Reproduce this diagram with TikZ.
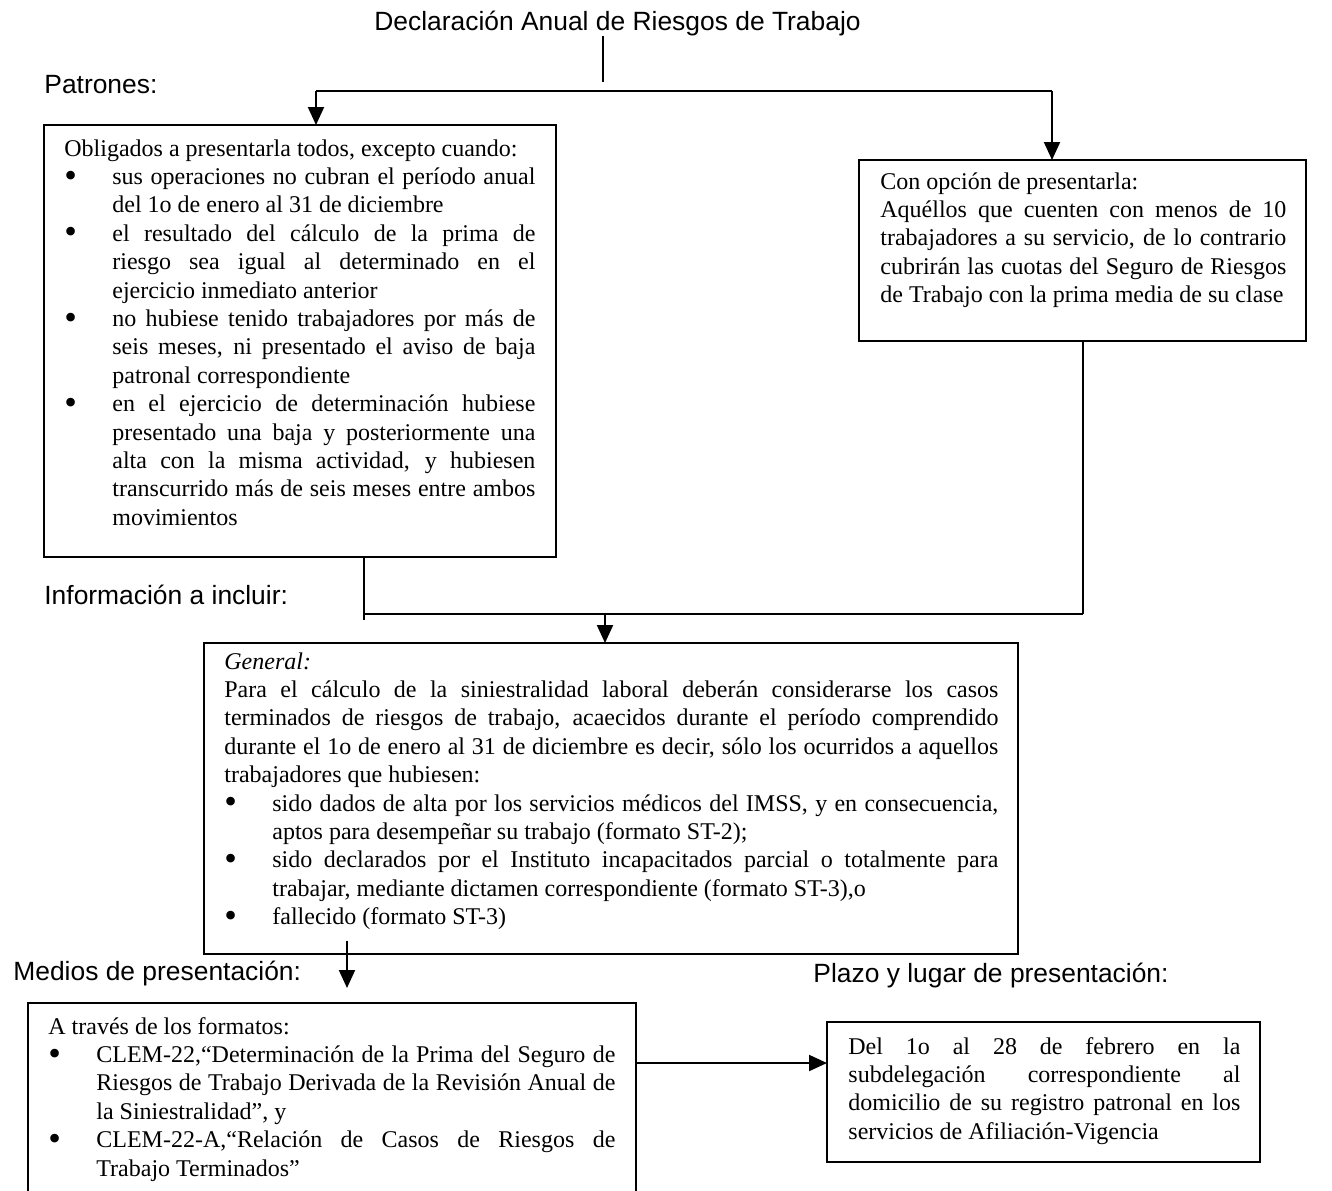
\documentclass[tikz,border=0pt]{standalone}
\usepackage{fontspec}
\setmainfont{Liberation Serif}
\newfontfamily\hfont{Liberation Sans}
\usetikzlibrary{arrows.meta}
\newcommand\xbul{\raisebox{-1.3pt}{\scalebox{1.5}{\textbullet}}}
\newcommand\xJ[1]{\makebox[\linewidth][s]{#1}}
\newcommand\xBJ[1]{\makebox[24pt][l]{\xbul}\makebox[\dimexpr\linewidth-24pt\relax][s]{#1}}
\newcommand\xBN[1]{\makebox[24pt][l]{\xbul}#1}
\newcommand\xIJ[1]{\hspace*{24pt}\makebox[\dimexpr\linewidth-24pt\relax][s]{#1}}
\newcommand\xIN[1]{\hspace*{24pt}#1}
\tikzset{
  box/.style={draw, line width=1pt, anchor=north west, inner sep=0pt, outer sep=0pt},
  txt/.style={anchor=base west, inner sep=0pt, font=\fontsize{12}{14.2}\selectfont},
  head/.style={anchor=base west, inner sep=0pt, font=\hfont\fontsize{13.2}{15}\selectfont},
  conn/.style={line width=1pt},
  arr/.style={line width=1pt, -{Triangle[length=9pt,width=8pt]}},
}
\begin{document}
\begin{tikzpicture}[x=0.5pt, y=-0.5pt]
\useasboundingbox (0,0) rectangle (1332,1190);
\fill[white] (0,0) rectangle (1332,1190);
\clip (0,0) rectangle (1332,1190);

% headings
\node[head] (title) at (374,30) {Declaración Anual de Riesgos de Trabajo};
\node[head] (hpat) at (44,93) {Patrones:};
\node[head] (hinf) at (44,604) {Información a incluir:};
\node[head] (hmed) at (13,980) {Medios de presentación:};
\node[head] (hpla) at (813,982) {Plazo y lugar de presentación:};

% boxes
\node[box, minimum width=256pt, minimum height=216pt] (b1) at (44,125) {};
\node[box, minimum width=223.5pt, minimum height=90.5pt] (b2) at (859,160) {};
\node[box, minimum width=407pt, minimum height=155.5pt] (b3) at (204,643) {};
\node[box, minimum width=304pt, minimum height=125pt] (b4) at (28,1003) {};
\node[box, minimum width=216.5pt, minimum height=70pt] (b5) at (827,1022) {};

% box texts
\node[txt] (t1) at (64,156) {\parbox[t]{235.5pt}{Obligados a presentarla todos, excepto cuando:\\
\xBJ{sus operaciones no cubran el período anual}\\
\xIN{del 1o de enero al 31 de diciembre}\\
\xBJ{el resultado del cálculo de la prima de}\\
\xIJ{riesgo sea igual al determinado en el}\\
\xIN{ejercicio inmediato anterior}\\
\xBJ{no hubiese tenido trabajadores por más de}\\
\xIJ{seis meses, ni presentado el aviso de baja}\\
\xIN{patronal correspondiente}\\
\xBJ{en el ejercicio de determinación hubiese}\\
\xIJ{presentado una baja y posteriormente una}\\
\xIJ{alta con la misma actividad, y hubiesen}\\
\xIJ{transcurrido más de seis meses entre ambos}\\
\xIN{movimientos}}};

\node[txt] (t2) at (880,189) {\parbox[t]{203pt}{Con opción de presentarla:\\
\xJ{Aquéllos que cuenten con menos de 10}\\
\xJ{trabajadores a su servicio, de lo contrario}\\
\xJ{cubrirán las cuotas del Seguro de Riesgos}\\
de Trabajo con la prima media de su clase}};

\node[txt] (t3) at (224,669) {\parbox[t]{387pt}{\textit{General:}\\
\xJ{Para el cálculo de la siniestralidad laboral deberán considerarse los casos}\\
\xJ{terminados de riesgos de trabajo, acaecidos durante el período comprendido}\\
\xJ{durante el 1o de enero al 31 de diciembre es decir, sólo los ocurridos a aquellos}\\
trabajadores que hubiesen:\\
\xBJ{sido dados de alta por los servicios médicos del IMSS, y en consecuencia,}\\
\xIN{aptos para desempeñar su trabajo (formato ST-2);}\\
\xBJ{sido declarados por el Instituto incapacitados parcial o totalmente para}\\
\xIN{trabajar, mediante dictamen correspondiente (formato ST-3),o}\\
\xBN{fallecido (formato ST-3)}}};

\node[txt] (t4) at (48,1034) {\parbox[t]{283.5pt}{A través de los formatos:\\
\xBJ{CLEM-22,“Determinación de la Prima del Seguro de}\\
\xIJ{Riesgos de Trabajo Derivada de la Revisión Anual de}\\
\xIN{la Siniestralidad”, y}\\
\xBJ{CLEM-22-A,“Relación de Casos de Riesgos de}\\
\xIN{Trabajo Terminados”}}};

\node[txt] (t5) at (848,1054) {\parbox[t]{196pt}{\xJ{Del 1o al 28 de febrero en la}\\
\xJ{subdelegación correspondiente al}\\
\xJ{domicilio de su registro patronal en los}\\
servicios de Afiliación-Vigencia}};

% connectors
\coordinate (c0) at (603,82);
\draw[conn] (title.south -| c0) -- (c0);
\coordinate (jL) at (316,91);
\coordinate (jR) at (1052,91);
\draw[conn] (jL) -- (jR);
\draw[arr] (jL) -- (jL |- b1.north);
\draw[arr] (jR) -- (jR |- b2.north);

\coordinate (k1) at (364,620);
\coordinate (kL) at (364,614);
\coordinate (kR) at (1083,614);
\coordinate (kM) at (605,614);
\draw[conn] (b1.south -| k1) -- (k1);
\draw[conn] (kL) -- (kR);
\draw[conn] (b2.south -| kR) -- (kR);
\draw[arr] (kM) -- (kM |- b3.north);

\coordinate (m0) at (347,941);
\coordinate (m1) at (347,988);
\draw[arr] (m0) -- (m1);

\coordinate (h) at (0,1063);
\draw[arr] (b4.east |- h) -- (b5.west |- h);
\end{tikzpicture}
\end{document}
